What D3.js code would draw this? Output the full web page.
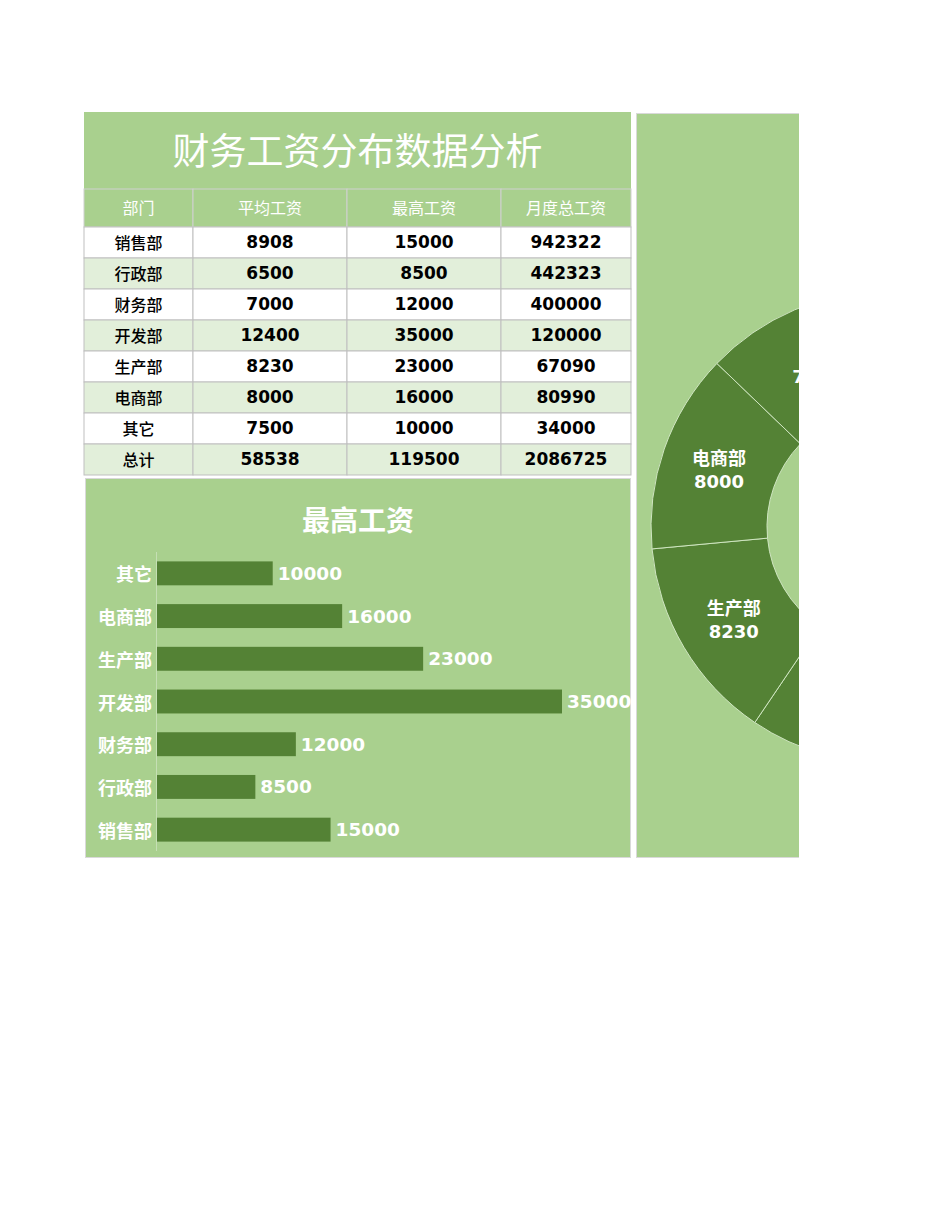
<!DOCTYPE html>
<html>
<head>
<meta charset="utf-8">
<script src="https://cdn.jsdelivr.net/npm/d3@7"></script>
<style>
  body { margin: 0; background: #fff; }
  text { font-family: "DejaVu Sans", "Noto Sans CJK SC", sans-serif; }
</style>
</head>
<body>
<svg id="chart" width="950" height="1230"></svg>
<script>
const title = '财务工资分布数据分析';
const headers = ['部门', '平均工资', '最高工资', '月度总工资'];
const depts = ['销售部', '行政部', '财务部', '开发部', '生产部', '电商部', '其它'];
const avgWage = [8908, 6500, 7000, 12400, 8230, 8000, 7500];
const maxWage = [15000, 8500, 12000, 35000, 23000, 16000, 10000];
const monthTotal = [942322, 442323, 400000, 120000, 67090, 80990, 34000];
const totalLabel = '总计';
const barTitle = '最高工资';

const green = '#A9D08E';
const dark = '#548235';
const pale = '#E2EFDA';
const grid = '#BFBFBF';

const svg = d3.select('#chart');

// table
const cols = [84, 193, 347, 501, 631];
const titleTop = 112, headTop = 189, rowTop = 227, rowH = 31;

const rows = depts.map((d, i) => [d, avgWage[i], maxWage[i], monthTotal[i]]);
rows.push([totalLabel, d3.sum(avgWage), d3.sum(maxWage), d3.sum(monthTotal)]);

svg.append('rect')
  .attr('x', cols[0]).attr('y', titleTop)
  .attr('width', cols[4] - cols[0]).attr('height', rowTop - titleTop)
  .attr('fill', green);

svg.append('text')
  .attr('x', (cols[0] + cols[4]) / 2).attr('y', 149)
  .attr('text-anchor', 'middle').attr('dominant-baseline', 'central')
  .attr('fill', '#fff')
  .style('font-family', '"Noto Sans CJK SC", sans-serif')
  .style('font-size', '37px')
  .text(title);

var head = svg.append('g');
headers.forEach(function (h, j) {
  head.append('rect')
    .attr('x', cols[j]).attr('y', headTop)
    .attr('width', cols[j + 1] - cols[j]).attr('height', rowTop - headTop)
    .attr('fill', green).attr('stroke', '#d0d0d0').attr('stroke-width', 1);
  head.append('text')
    .attr('x', (cols[j] + cols[j + 1]) / 2).attr('y', (headTop + rowTop) / 2 - 1)
    .attr('text-anchor', 'middle').attr('dominant-baseline', 'central')
    .attr('fill', '#fff')
    .style('font-family', '"Noto Sans CJK SC", sans-serif')
    .style('font-size', '16px')
    .text(h);
});

var body = svg.append('g');
rows.forEach(function (r, i) {
  const y = rowTop + i * rowH;
  r.forEach(function (v, j) {
    body.append('rect')
      .attr('x', cols[j]).attr('y', y)
      .attr('width', cols[j + 1] - cols[j]).attr('height', rowH)
      .attr('fill', i % 2 ? pale : '#fff')
      .attr('stroke', grid).attr('stroke-width', 1);
    body.append('text')
      .attr('x', (cols[j] + cols[j + 1]) / 2).attr('y', y + rowH / 2 - 1)
      .attr('text-anchor', 'middle').attr('dominant-baseline', 'central')
      .attr('fill', '#000')
      .style('font-size', j == 0 ? '16px' : '17px')
      .style('font-weight', j == 0 ? '500' : 'bold')
      .style('font-family', j == 0 ? '"Noto Sans CJK SC", sans-serif' : null)
      .text(v);
  });
});

// bar chart
svg.append('rect')
  .attr('x', 85.5).attr('y', 478.5)
  .attr('width', 545).attr('height', 379)
  .attr('fill', green).attr('stroke', '#d9d9d9');

svg.append('text')
  .attr('x', 358).attr('y', 519)
  .attr('text-anchor', 'middle').attr('dominant-baseline', 'central')
  .attr('fill', '#fff')
  .style('font-family', '"Noto Sans CJK SC", sans-serif')
  .style('font-weight', 'bold')
  .style('font-size', '28px')
  .text(barTitle);

var x = d3.scaleLinear()
  .domain([0, 35000])
  .range([157, 562]);

var y = d3.scaleBand()
  .domain(depts.slice().reverse())
  .range([552, 851])
  .paddingInner(0.44)
  .paddingOuter(0.22);

svg.append('line')
  .attr('x1', 156.5).attr('x2', 156.5)
  .attr('y1', 552).attr('y2', 851)
  .attr('stroke', '#c5dfb4').attr('stroke-width', 1);

var bars = svg.append('g')
  .selectAll('g')
  .data(depts.map((d, i) => ({ name: d, value: maxWage[i] })))
  .enter()
  .append('g');

bars.append('rect')
  .attr('x', x(0))
  .attr('y', d => y(d.name))
  .attr('width', d => x(d.value) - x(0))
  .attr('height', y.bandwidth())
  .attr('fill', dark);

bars.append('text')
  .attr('x', d => x(d.value) + 5)
  .attr('y', d => y(d.name) + y.bandwidth() / 2)
  .attr('dominant-baseline', 'central')
  .attr('fill', '#fff')
  .style('font-weight', 'bold')
  .style('font-size', '18.5px')
  .text(d => d.value);

bars.append('text')
  .attr('x', 152)
  .attr('y', d => y(d.name) + y.bandwidth() / 2)
  .attr('text-anchor', 'end')
  .attr('dominant-baseline', 'central')
  .attr('fill', '#fff')
  .style('font-family', '"Noto Sans CJK SC", sans-serif')
  .style('font-weight', 'bold')
  .style('font-size', '18px')
  .text(d => d.name);

// donut, cut off at the print edge
const cutX = 799;

svg.append('clipPath').attr('id', 'cut')
  .append('rect')
  .attr('x', 636).attr('y', 113)
  .attr('width', cutX - 636).attr('height', 745);

var donut = svg.append('g').attr('clip-path', 'url(#cut)');

donut.append('rect')
  .attr('x', 636.5).attr('y', 113.5)
  .attr('width', 520).attr('height', 744)
  .attr('fill', green).attr('stroke', '#d9d9d9');

var pie = d3.pie()
  .sort(null)
  .value(d => d.value);

var arc = d3.arc()
  .innerRadius(120)
  .outerRadius(236);

const cx = 887, cy = 527;

var slices = pie(depts.map((d, i) => ({ name: d, value: avgWage[i] })));

var g = donut.append('g')
  .attr('transform', 'translate(' + cx + ',' + cy + ')');

g.selectAll('path')
  .data(slices)
  .enter()
  .append('path')
  .attr('d', arc)
  .attr('fill', dark)
  .attr('stroke', '#cfe5c1')
  .attr('stroke-width', 1);

// labels that lie wholly past the cut are never seen, skip them
var lbl = g.selectAll('text.lbl')
  .data(slices.filter(d => cx + arc.centroid(d)[0] - 30 < cutX))
  .enter()
  .append('text')
  .attr('class', 'lbl')
  .attr('transform', d => 'translate(' + arc.centroid(d) + ')')
  .attr('text-anchor', 'middle')
  .attr('fill', '#fff')
  .style('font-weight', 'bold')
  .style('font-size', '18px');

lbl.append('tspan')
  .attr('x', 0).attr('y', -3)
  .style('font-family', '"Noto Sans CJK SC", sans-serif')
  .text(d => d.data.name);

lbl.append('tspan')
  .attr('x', 0).attr('y', 20)
  .text(d => d.data.value);
</script>
</body>
</html>
